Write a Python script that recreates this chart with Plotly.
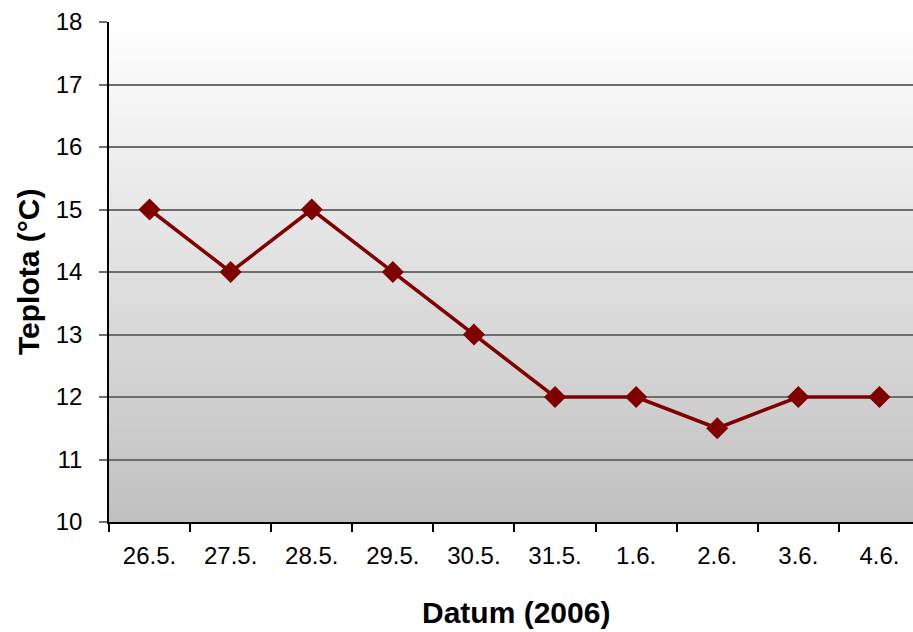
import plotly.graph_objects as go

# Daily temperature readings, late May / early June 2006
dates = ["26.5.", "27.5.", "28.5.", "29.5.", "30.5.", "31.5.", "1.6.", "2.6.", "3.6.", "4.6."]
temps = [15, 14, 15, 14, 13, 12, 12, 11.5, 12, 12]
y_ticks = [10, 11, 12, 13, 14, 15, 16, 17, 18]

FONT = "Liberation Sans, Arial, sans-serif"
LINE_COLOR = "#800000"
GRID_COLOR = "#6e6e6e"

fig = go.Figure()
fig.add_trace(go.Scatter(
    x=dates, y=temps, mode="lines+markers",
    line=dict(color=LINE_COLOR, width=3.5),
    marker=dict(symbol="diamond", size=17, color=LINE_COLOR),
    showlegend=False,
))

# vertical white-to-grey gradient behind the plot area
bands = 80
for i in range(bands):
    t = (i + 0.5) / bands
    g = round(192 + (255 - 192) * t)
    fig.add_shape(
        type="rect", xref="x domain", yref="y domain",
        x0=0, x1=1, y0=i / bands, y1=(i + 1) / bands + 0.002,
        fillcolor=f"rgb({g},{g},{g})", line=dict(width=0), layer="below",
    )

fig.update_layout(
    width=913, height=632,
    margin=dict(l=109, r=0, t=22, b=110),
    paper_bgcolor="white", plot_bgcolor="white",
    font=dict(family=FONT, size=24, color="black"),
    xaxis=dict(
        type="category", categoryorder="array", categoryarray=dates,
        range=[-0.5, 9.414],
        tickson="boundaries", ticks="outside", ticklen=8, tickwidth=1.5, tickcolor="black",
        showline=True, linecolor="black", linewidth=1.5, showgrid=False,
        ticklabelstandoff=11,
    ),
    yaxis=dict(
        range=[10, 18], tickvals=y_ticks,
        ticks="outside", ticklen=8, tickwidth=1.6, tickcolor=GRID_COLOR,
        showline=True, linecolor="black", linewidth=1.5,
        showgrid=True, gridcolor=GRID_COLOR, gridwidth=1.6, zeroline=False,
        ticklabelstandoff=12,
    ),
    annotations=[
        dict(text="<b>Datum (2006)</b>", xref="paper", yref="paper",
             x=0.5065, y=-0.18, xanchor="center", yanchor="middle",
             showarrow=False, font=dict(size=30, family=FONT)),
        dict(text="<b>Teplota (°C)</b>", xref="paper", yref="paper",
             x=-0.1007, y=0.5, xanchor="center", yanchor="middle", textangle=-90,
             showarrow=False, font=dict(size=30, family=FONT)),
    ],
)

fig.write_html("out.html")
